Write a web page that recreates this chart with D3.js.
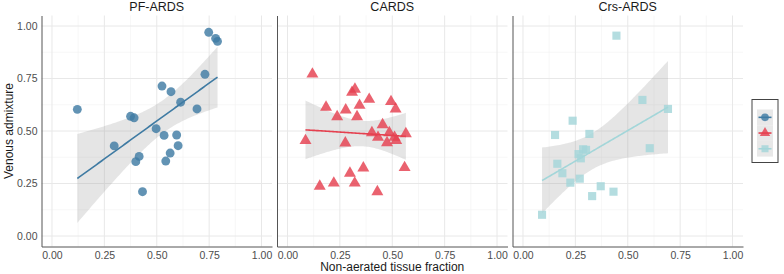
<!DOCTYPE html>
<html>
<head>
<meta charset="utf-8">
<script src="https://cdn.jsdelivr.net/npm/d3@7"></script>
<style>
  body { margin: 0; background: #fff; }
  text { font-family: "Liberation Sans", Arial, sans-serif; }
</style>
</head>
<body>
<div id="chart"></div>
<script>
// panel titles
const panels = ["PF-ARDS", "CARDS", "Crs-ARDS"]

// PF-ARDS (circles)
const pfX = [0.748, 0.781, 0.790, 0.730, 0.525, 0.568, 0.614, 0.692, 0.121, 0.375, 0.392,
             0.497, 0.535, 0.595, 0.297, 0.602, 0.416, 0.564, 0.400, 0.543, 0.432]
const pfY = [0.970, 0.941, 0.927, 0.770, 0.714, 0.687, 0.637, 0.605, 0.603, 0.570, 0.563,
             0.511, 0.479, 0.481, 0.429, 0.430, 0.379, 0.395, 0.354, 0.357, 0.211]

// CARDS (triangles)
const cardsX = [0.119, 0.322, 0.308, 0.390, 0.494, 0.516, 0.184, 0.278, 0.344, 0.237, 0.332,
                0.454, 0.403, 0.432, 0.486, 0.565, 0.511, 0.519, 0.475, 0.086, 0.276, 0.559,
                0.362, 0.298, 0.154, 0.221, 0.321, 0.429]
const cardsY = [0.771, 0.699, 0.684, 0.651, 0.640, 0.605, 0.613, 0.600, 0.622, 0.568, 0.568,
                0.530, 0.492, 0.470, 0.492, 0.487, 0.470, 0.454, 0.444, 0.454, 0.443, 0.326,
                0.324, 0.299, 0.237, 0.252, 0.252, 0.211]

// Crs-ARDS (squares)
const crsX = [0.446, 0.570, 0.692, 0.237, 0.153, 0.317, 0.605, 0.287, 0.301, 0.265, 0.276,
              0.164, 0.188, 0.226, 0.271, 0.371, 0.432, 0.330, 0.091]
const crsY = [0.954, 0.648, 0.605, 0.549, 0.481, 0.486, 0.418, 0.413, 0.410, 0.390, 0.370,
              0.344, 0.299, 0.254, 0.273, 0.237, 0.211, 0.190, 0.101]

const ticks = [0, 0.25, 0.5, 0.75, 1]
const minorTicks = [0.125, 0.375, 0.625, 0.875]

const xTitle = "Non-aerated tissue fraction"
const yTitle = "Venous admixture"

const series = [
    {name: panels[0], x: pfX, y: pfY, color: "#3f7ba3", shape: d3.symbolCircle, size: 62},
    {name: panels[1], x: cardsX, y: cardsY, color: "#e5404f", shape: d3.symbolTriangle, size: 62},
    {name: panels[2], x: crsX, y: crsY, color: "#a3d6d9", shape: d3.symbolSquare, size: 66}
]

const width = 784
const height = 274
const marginTop = 15.5
const marginBottom = 27.5
const marginLeft = 41.5
const panelWidth = 230.5
const panelGap = 5

const svg = d3.select("#chart")
    .append("svg")
    .attr("width", width)
    .attr("height", height)
    .attr("viewBox", [0, 0, width, height])

const yScale = d3.scaleLinear([-0.05, 1.05], [height - marginBottom, marginTop])

// t quantile (97.5%), Cornish-Fisher approximation
const tQuant = (df) => {
    const z = 1.959964
    return z + (z ** 3 + z) / (4 * df) + (5 * z ** 5 + 16 * z ** 3 + 3 * z) / (96 * df * df)
        + (3 * z ** 7 + 19 * z ** 5 + 17 * z ** 3 - 15 * z) / (384 * df ** 3)
}

// lm fit with 95% confidence band
const fitLm = (X, Y) => {
    const n = X.length
    const mx = d3.mean(X), my = d3.mean(Y)
    const sxx = d3.sum(X, x => (x - mx) ** 2)
    const sxy = d3.sum(X, (x, i) => (x - mx) * (Y[i] - my))
    const b = sxy / sxx, a = my - b * mx
    const s = Math.sqrt(d3.sum(X, (x, i) => (Y[i] - a - b * x) ** 2) / (n - 2))
    const t = tQuant(n - 2)
    const [x0, x1] = d3.extent(X)
    return d3.range(81).map(k => {
        const x = x0 + (x1 - x0) * k / 80
        const yh = a + b * x
        const se = s * Math.sqrt(1 / n + (x - mx) ** 2 / sxx)
        return {x: x, y: yh, lo: yh - t * se, hi: yh + t * se}
    })
}

series.forEach((sr, p) => {
    const left = marginLeft + p * (panelWidth + panelGap)
    const xScale = d3.scaleLinear([-0.05, 1.05], [left, left + panelWidth])
    const g = svg.append("g")

    // grid
    g.selectAll(".minx").data(minorTicks).join("line")
        .attr("x1", d => xScale(d)).attr("x2", d => xScale(d))
        .attr("y1", marginTop).attr("y2", height - marginBottom)
        .attr("stroke", "#f1f1f1").attr("stroke-width", 0.6)
    g.selectAll(".miny").data(minorTicks).join("line")
        .attr("y1", d => yScale(d)).attr("y2", d => yScale(d))
        .attr("x1", left).attr("x2", left + panelWidth)
        .attr("stroke", "#f1f1f1").attr("stroke-width", 0.6)
    g.selectAll(".majx").data(ticks).join("line")
        .attr("x1", d => xScale(d)).attr("x2", d => xScale(d))
        .attr("y1", marginTop).attr("y2", height - marginBottom)
        .attr("stroke", "#e8e8e8").attr("stroke-width", 1)
    g.selectAll(".majy").data(ticks).join("line")
        .attr("y1", d => yScale(d)).attr("y2", d => yScale(d))
        .attr("x1", left).attr("x2", left + panelWidth)
        .attr("stroke", "#e8e8e8").attr("stroke-width", 1)

    // axes
    g.append("g")
        .attr("transform", `translate(0,${height - marginBottom})`)
        .call(d3.axisBottom(xScale).tickValues(ticks).tickFormat(d3.format(".2f")).tickSize(0).tickPadding(5))
        .call(a => a.select(".domain").attr("stroke", "#555"))
        .call(a => a.selectAll("text").attr("fill", "#4d4d4d").attr("font-size", 10.5)
            .attr("font-family", "Liberation Sans, Arial, sans-serif"))
    g.append("g")
        .attr("transform", `translate(${left},0)`)
        .call(d3.axisLeft(yScale).tickValues(p === 0 ? ticks : []).tickFormat(d3.format(".2f")).tickSize(0).tickPadding(4))
        .call(a => a.select(".domain").attr("stroke", "#555"))
        .call(a => a.selectAll("text").attr("fill", "#4d4d4d").attr("font-size", 10.5)
            .attr("font-family", "Liberation Sans, Arial, sans-serif"))

    // strip title
    g.append("text")
        .attr("x", left + panelWidth / 2).attr("y", 11)
        .attr("text-anchor", "middle").attr("font-size", 12.5).attr("fill", "#1a1a1a")
        .text(sr.name)

    // smooth
    const fit = fitLm(sr.x, sr.y)
    g.append("path")
        .attr("fill", "#999").attr("fill-opacity", 0.25)
        .attr("d", d3.area().x(d => xScale(d.x)).y0(d => yScale(d.lo)).y1(d => yScale(d.hi))(fit))

    // points
    g.selectAll(".pt").data(d3.range(sr.x.length)).join("path")
        .attr("transform", i => `translate(${xScale(sr.x[i])},${yScale(sr.y[i])})`)
        .attr("d", d3.symbol(sr.shape, sr.size))
        .attr("fill", sr.color).attr("fill-opacity", 0.82)

    g.append("path")
        .attr("fill", "none").attr("stroke", sr.color).attr("stroke-width", 1.6)
        .attr("d", d3.line().x(d => xScale(d.x)).y(d => yScale(d.y))(fit))
})

// axis titles
svg.append("text")
    .attr("x", marginLeft + (3 * panelWidth + 2 * panelGap) / 2).attr("y", 271)
    .attr("text-anchor", "middle").attr("font-size", 12).attr("fill", "#1a1a1a")
    .text(xTitle)
svg.append("text")
    .attr("transform", `translate(13,${(marginTop + height - marginBottom) / 2}) rotate(-90)`)
    .attr("text-anchor", "middle").attr("font-size", 12).attr("fill", "#1a1a1a")
    .text(yTitle)

// legend
const legend = svg.append("g").attr("transform", "translate(752,99.5)")
legend.append("rect")
    .attr("width", 26).attr("height", 63)
    .attr("fill", "#fff").attr("stroke", "#444").attr("stroke-width", 1)
const keys = legend.selectAll(".key").data(series).join("g")
    .attr("transform", (d, i) => `translate(5,${10 + i * 15.7})`)
keys.append("rect").attr("width", 16).attr("height", 15.7).attr("fill", "#e8e8e8")
keys.append("line").attr("x1", 1.5).attr("x2", 14.5).attr("y1", 7.85).attr("y2", 7.85)
    .attr("stroke", d => d.color).attr("stroke-width", 1.6)
keys.append("path")
    .attr("transform", "translate(8,7.85)")
    .attr("d", d => d3.symbol(d.shape, d.size * 0.75)())
    .attr("fill", d => d.color).attr("fill-opacity", 0.82)
</script>
</body>
</html>
